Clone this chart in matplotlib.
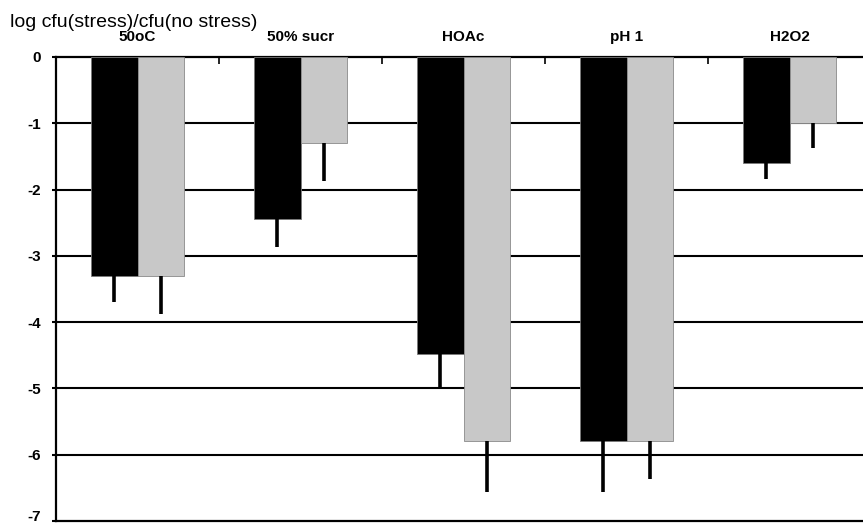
import numpy as np
import matplotlib
matplotlib.use('Agg')
import matplotlib.pyplot as plt

plt.rcParams['font.family'] = ['Liberation Sans', 'DejaVu Sans']

# Data
categories = ['50oC', '50% sucr', 'HOAc', 'pH 1', 'H2O2']
black_values = [-3.30, -2.45, -4.48, -5.80, -1.60]
black_errors = [0.40, 0.41, 0.52, 0.77, 0.24]
gray_values = [-3.30, -1.30, -5.80, -5.80, -1.00]
gray_errors = [0.58, 0.57, 0.76, 0.56, 0.37]
yticks = [0, -1, -2, -3, -4, -5, -6, -7]

fig = plt.figure(figsize=(8.63, 5.27), dpi=100)
# the right side of the plot runs past the image edge, like the reference
ax = fig.add_axes([56 / 863, 6 / 527, 815 / 863, 464 / 527])

x = np.arange(len(categories)) + 0.5
w = 0.288

ax.bar(x - w / 2, black_values, width=w, color='black', edgecolor='#7a7a7a',
       linewidth=0.6, zorder=3)
ax.bar(x + w / 2, gray_values, width=w, color='#c8c8c8', edgecolor='#8a8a8a',
       linewidth=0.6, zorder=3)

# one-sided (downward) error bars, no caps
ax.errorbar(x - w / 2, black_values, yerr=[black_errors, [0] * len(x)],
            fmt='none', ecolor='black', elinewidth=2.6, capsize=0, zorder=4)
ax.errorbar(x + w / 2, gray_values, yerr=[gray_errors, [0] * len(x)],
            fmt='none', ecolor='black', elinewidth=2.6, capsize=0, zorder=4)

# horizontal gridlines behind bars
for yv in yticks[1:-1]:
    ax.axhline(yv, color='black', linewidth=1.5, zorder=1)

ax.set_xlim(0, 5)
ax.set_ylim(-7, 0)
ax.set_yticks(yticks)
ax.set_yticklabels([str(v) for v in yticks], fontweight='bold', fontsize=11)
ax.tick_params(axis='y', length=3, width=1.5, pad=8)
# keep the bottom label inside the image
ax.get_yticklabels()[-1].set_verticalalignment('baseline')

# category axis sits on the zero line at the top
ax.xaxis.tick_top()
ax.set_xticks(np.arange(1, 5))
ax.set_xticklabels([])
ax.tick_params(axis='x', direction='in', length=5, width=1.2)

for xi, lab in zip(x, categories):
    ax.text(xi, 0.2, lab, ha='center', va='bottom', fontsize=11,
            fontweight='bold', transform=ax.transData, clip_on=False)

for side in ['left', 'top', 'bottom']:
    ax.spines[side].set_linewidth(1.6)
ax.spines['right'].set_visible(False)

fig.text(10 / 863, 1 - 27 / 527, 'log cfu(stress)/cfu(no stress)', fontsize=14,
         ha='left', va='baseline')

fig.savefig('out.png', dpi=100)
